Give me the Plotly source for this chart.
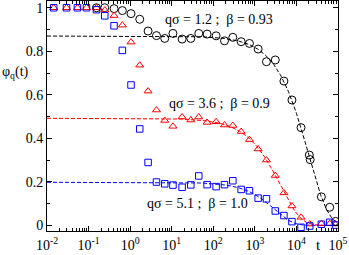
import numpy as np
import plotly.graph_objects as go

# ---- data ----
t_common = [0.0145, 0.0295, 0.054, 0.089, 0.155, 0.245, 0.41, 0.65, 1.05, 1.7, 2.7, 4.3,
            6.8, 10.7, 17.8, 28.8, 44.7, 71, 117, 186, 295, 468, 741, 1200, 1900, 3100,
            5000, 7800, 12900, 20900, 39800, 63100, 87100]

t_black = [0.155, 0.245, 0.41, 0.65, 1.05, 1.7, 2.7, 4.3, 6.8, 10.7, 17.8, 28.8, 44.7, 71,
           117, 186, 295, 468, 741, 1200, 1900, 3100, 5000, 7800, 12900, 20400, 21400,
           39800, 63100, 87100]
phi_black = [1.0, 1.0, 0.996, 0.987, 0.973, 0.947, 0.893, 0.872, 0.859, 0.882, 0.856, 0.859,
             0.882, 0.879, 0.871, 0.848, 0.864, 0.844, 0.836, 0.81, 0.752, 0.76, 0.663, 0.576,
             0.449, 0.323, 0.302, 0.131, 0.083, 0.018]

phi_red = [1.0, 1.0, 1.0, 1.0, 1.0, 0.989, 0.964, 0.92, 0.842, 0.736, 0.617, 0.53, 0.482,
           0.455, 0.498, 0.484, 0.498, 0.473, 0.476, 0.461, 0.459, 0.431, 0.394, 0.351, 0.30,
           0.229, 0.149, 0.089, 0.037, 0.006, 0.008, 0.008, 0.006]

phi_blue = [1.0, 1.0, 1.0, 1.0, 0.991, 0.963, 0.917, 0.804, 0.645, 0.443, 0.289, 0.199,
            0.191, 0.185, 0.175, 0.186, 0.227, 0.187, 0.178, 0.187, 0.205, 0.165, 0.159,
            0.125, 0.122, 0.066, 0.045, 0.017, -0.009, -0.003, 0.005, 0.014, 0.001]

# KWW fit parameters (plateau f, relaxation time tau, stretching beta)
fit_f = [0.870, 0.492, 0.198]
fit_tau = [20000, 4200, 3000]
fit_beta = [0.93, 0.9, 1.0]
fit_colors = ["black", "red", "blue"]

labels = ["qσ = 1.2 ;  β = 0.93", "qσ = 3.6 ;  β = 0.9", "qσ = 5.1 ;  β = 1.0"]

xtick_vals = [0.01, 0.1, 1, 10, 100, 1000, 10000, 100000]
xtick_text = ["10<sup>-2</sup>", "10<sup>-1</sup>", "10<sup>0</sup>", "10<sup>1</sup>",
              "10<sup>2</sup>", "10<sup>3</sup>", "10<sup>4</sup>", "10<sup>5</sup>"]
ytick_vals = [0, 0.2, 0.4, 0.6, 0.8, 1]

FONT = "Liberation Serif"

fig = go.Figure()

# fitted curves
t_fit = np.logspace(-2, 5, 400)
for f, tau, beta, col in zip(fit_f, fit_tau, fit_beta, fit_colors):
    fig.add_trace(go.Scatter(x=t_fit, y=f * np.exp(-(t_fit / tau) ** beta), mode="lines",
                             line=dict(color=col, width=1, dash="4px,2px"),
                             hoverinfo="skip", showlegend=False))

fig.add_trace(go.Scatter(x=t_black, y=phi_black, mode="markers",
                         marker=dict(symbol="circle-open", size=8, color="black",
                                     line=dict(width=1)), showlegend=False))
fig.add_trace(go.Scatter(x=t_common, y=phi_red, mode="markers",
                         marker=dict(symbol="triangle-up-open", size=7, color="red",
                                     line=dict(width=1)), showlegend=False))
fig.add_trace(go.Scatter(x=t_common, y=phi_blue, mode="markers",
                         marker=dict(symbol="square-open", size=6.5, color="blue",
                                     line=dict(width=1)), showlegend=False))

fig.update_layout(
    width=349, height=255,
    margin=dict(l=47, r=11, t=1, b=24, autoexpand=False),
    paper_bgcolor="white", plot_bgcolor="white",
    font=dict(family=FONT, size=14, color="black"),
    showlegend=False,
)
fig.update_xaxes(type="log", range=[-2, 5], showgrid=False, zeroline=False,
                 showline=True, linecolor="black", linewidth=1, mirror="ticks",
                 ticks="inside", ticklen=5, tickcolor="black", automargin=False,
                 tickvals=xtick_vals, ticktext=xtick_text,
                 tickfont=dict(family=FONT, size=14), ticklabelstandoff=1,
                 minor=dict(ticks="inside", ticklen=3, tickcolor="black", dtick="D1",
                            showgrid=False))
fig.update_yaxes(range=[-0.026, 1.031], showgrid=False, zeroline=False,
                 showline=True, linecolor="black", linewidth=1, mirror="ticks",
                 ticks="inside", ticklen=5, tickcolor="black", automargin=False,
                 tickvals=ytick_vals, tickfont=dict(family=FONT, size=14),
                 minor=dict(ticks="inside", ticklen=3, tickcolor="black", dtick=0.1,
                            showgrid=False))

# series labels
label_pos = [(163, 20), (167, 104), (145, 203)]
for txt, (px, py) in zip(labels, label_pos):
    fig.add_annotation(text=txt, xref="paper", yref="paper",
                       x=(px - 47) / 291, y=(231 - py) / 230, xanchor="left", yanchor="middle",
                       showarrow=False, font=dict(family=FONT, size=14))

# axis titles
fig.add_annotation(text="φ<sub>q</sub>(t)", xref="paper", yref="paper",
                   x=(0 - 47) / 291, y=(231 - 72) / 230, xanchor="left", yanchor="middle",
                   showarrow=False, font=dict(family=FONT, size=14))
fig.add_annotation(text="t", xref="paper", yref="paper",
                   x=(318 - 47) / 291, y=(231 - 245) / 230, xanchor="center", yanchor="middle",
                   showarrow=False, font=dict(family=FONT, size=15))

fig.write_html("out.html", config={"displayModeBar": False},
               post_script="document.body.style.margin='0';document.body.style.padding='0';")
